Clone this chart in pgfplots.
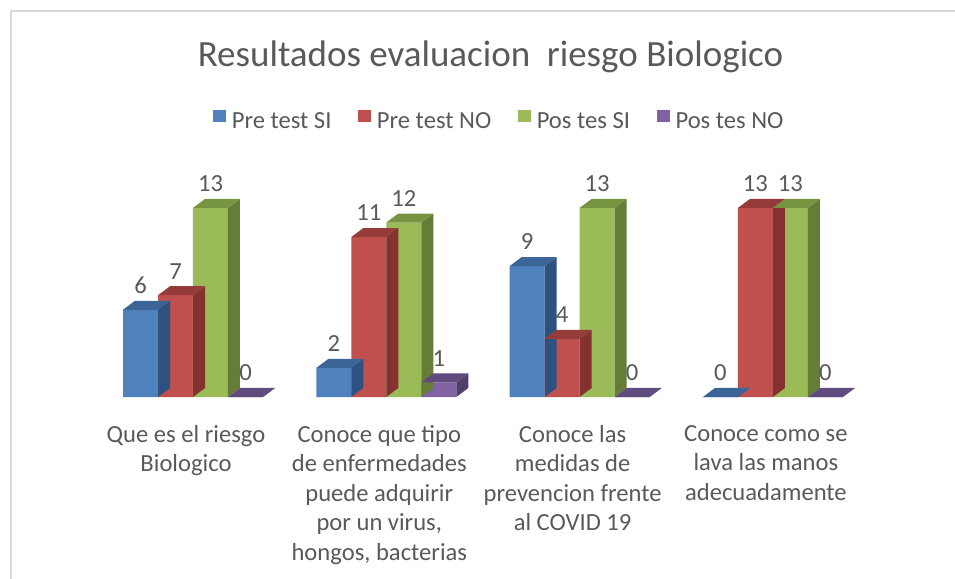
\documentclass[border=0pt]{standalone}
\usepackage{pgfplots}
\usepackage{pgfplotstable}
\pgfplotsset{compat=1.18}
\usepackage{fontspec}
\setmainfont{Carlito}

\definecolor{txt}{HTML}{595959}
\definecolor{frame}{HTML}{D9D9D9}
\definecolor{cA}{HTML}{4F81BD}\definecolor{cAtop}{HTML}{3B6596}\definecolor{cAside}{HTML}{2E5180}
\definecolor{cB}{HTML}{C0504D}\definecolor{cBtop}{HTML}{953B39}\definecolor{cBside}{HTML}{85312F}
\definecolor{cC}{HTML}{9BBB59}\definecolor{cCtop}{HTML}{779440}\definecolor{cCside}{HTML}{657D36}
\definecolor{cD}{HTML}{8064A2}\definecolor{cDtop}{HTML}{5F4B7D}\definecolor{cDside}{HTML}{4F3F69}

\newcommand\lblfont{\fontsize{24.6bp}{29.5bp}\selectfont}

\pgfplotstableread{
cat preSI preNO posSI posNO
0   6     7     13    0
1   2     11    12    1
2   9     4     13    0
3   0     13    13    0
}\resultados

% fake 3d: bar 35bp wide, depth 12bp x 9bp, y unit 14.54bp
\pgfdeclareplotmark{barside}{%
  \pgfpathmoveto{\pgfpoint{17.5bp}{0bp}}%
  \pgfpathlineto{\pgfpoint{29.5bp}{9bp}}%
  \pgfpathlineto{\pgfpoint{29.5bp}{9bp-\rawy*14.54bp}}%
  \pgfpathlineto{\pgfpoint{17.5bp}{-\rawy*14.54bp}}%
  \pgfpathclose\pgfusepathqfill}
\pgfdeclareplotmark{bartop}{%
  \pgfpathmoveto{\pgfpoint{-17.5bp}{0bp}}%
  \pgfpathlineto{\pgfpoint{17.5bp}{0bp}}%
  \pgfpathlineto{\pgfpoint{29.5bp}{9bp}}%
  \pgfpathlineto{\pgfpoint{-5.5bp}{9bp}}%
  \pgfpathclose\pgfusepathqfill}

\pgfplotsset{
  front/.style={ybar, bar width=35bp, bar shift=0pt, draw=none, fill=#1,
    nodes near coords,
    legend image code/.code={\fill[##1] (0bp,-0.5bp) rectangle (12.5bp,12bp);}},
  face/.style 2 args={only marks, mark=#1, mark options={fill=#2, draw=none},
    forget plot, visualization depends on=rawy\as\rawy},
}

\begin{document}
\begin{tikzpicture}
\draw[frame, line width=1.5bp] (11bp,0bp) -- (11bp,568bp) -- (955bp,568bp);
\node[font=\fontsize{37bp}{44bp}\selectfont, text=txt, anchor=base, inner sep=0pt]
  at (490.5bp,512bp) {Resultados evaluacion\ \ riesgo Biologico};

\begin{axis}[
  at={(193bp,182bp)}, anchor=origin,
  x=193.3bp, y=14.54bp,
  xmin=-0.55, xmax=3.55, ymin=0, ymax=14,
  clip=false,
  axis line style={draw=none},
  major tick length=0pt,
  ytick=\empty,
  xtick={0,1,2,3},
  xticklabels={{Que es el riesgo\\Biologico},
    {Conoce que tipo\\de enfermedades\\puede adquirir\\por un virus,\\hongos, bacterias},
    {Conoce las\\medidas de\\prevencion frente\\al COVID 19},
    {Conoce como se\\lava las manos\\adecuadamente}},
  xticklabel style={font=\lblfont\strut, text=txt, align=center, anchor=north,
    inner sep=0pt, xshift=-7bp, yshift=-28bp},
  /pgf/number format/assume math mode=true,
  nodes near coords style={font=\lblfont, text=txt, inner sep=0pt, yshift=16bp},
  legend columns=4,
  legend style={draw=none, fill=none, at={(0.5195,1.3605)}, anchor=center,
    font=\lblfont, text=txt, nodes={inner sep=0pt},
    /tikz/every odd column/.append style={column sep=6bp},
    /tikz/every even column/.append style={column sep=27bp}},
]
\addplot[face={barside}{cAside}] table[x expr=\thisrow{cat}-0.2716, y=preSI] {\resultados};
\addplot[face={bartop}{cAtop}] table[x expr=\thisrow{cat}-0.2716, y=preSI] {\resultados};
\addplot[front=cA] table[x expr=\thisrow{cat}-0.2716, y=preSI] {\resultados};

\addplot[face={barside}{cBside}] table[x expr=\thisrow{cat}-0.0905, y=preNO] {\resultados};
\addplot[face={bartop}{cBtop}] table[x expr=\thisrow{cat}-0.0905, y=preNO] {\resultados};
\addplot[front=cB] table[x expr=\thisrow{cat}-0.0905, y=preNO] {\resultados};

\addplot[face={barside}{cCside}] table[x expr=\thisrow{cat}+0.0905, y=posSI] {\resultados};
\addplot[face={bartop}{cCtop}] table[x expr=\thisrow{cat}+0.0905, y=posSI] {\resultados};
\addplot[front=cC] table[x expr=\thisrow{cat}+0.0905, y=posSI] {\resultados};

\addplot[face={barside}{cDside}] table[x expr=\thisrow{cat}+0.2716, y=posNO] {\resultados};
\addplot[face={bartop}{cDtop}] table[x expr=\thisrow{cat}+0.2716, y=posNO] {\resultados};
\addplot[front=cD] table[x expr=\thisrow{cat}+0.2716, y=posNO] {\resultados};

\legend{Pre test SI, Pre test NO, Pos tes SI, Pos tes NO}
\end{axis}
\pgfresetboundingbox
\path[use as bounding box] (0bp,0bp) rectangle (955bp,579bp);
\end{tikzpicture}
\end{document}
